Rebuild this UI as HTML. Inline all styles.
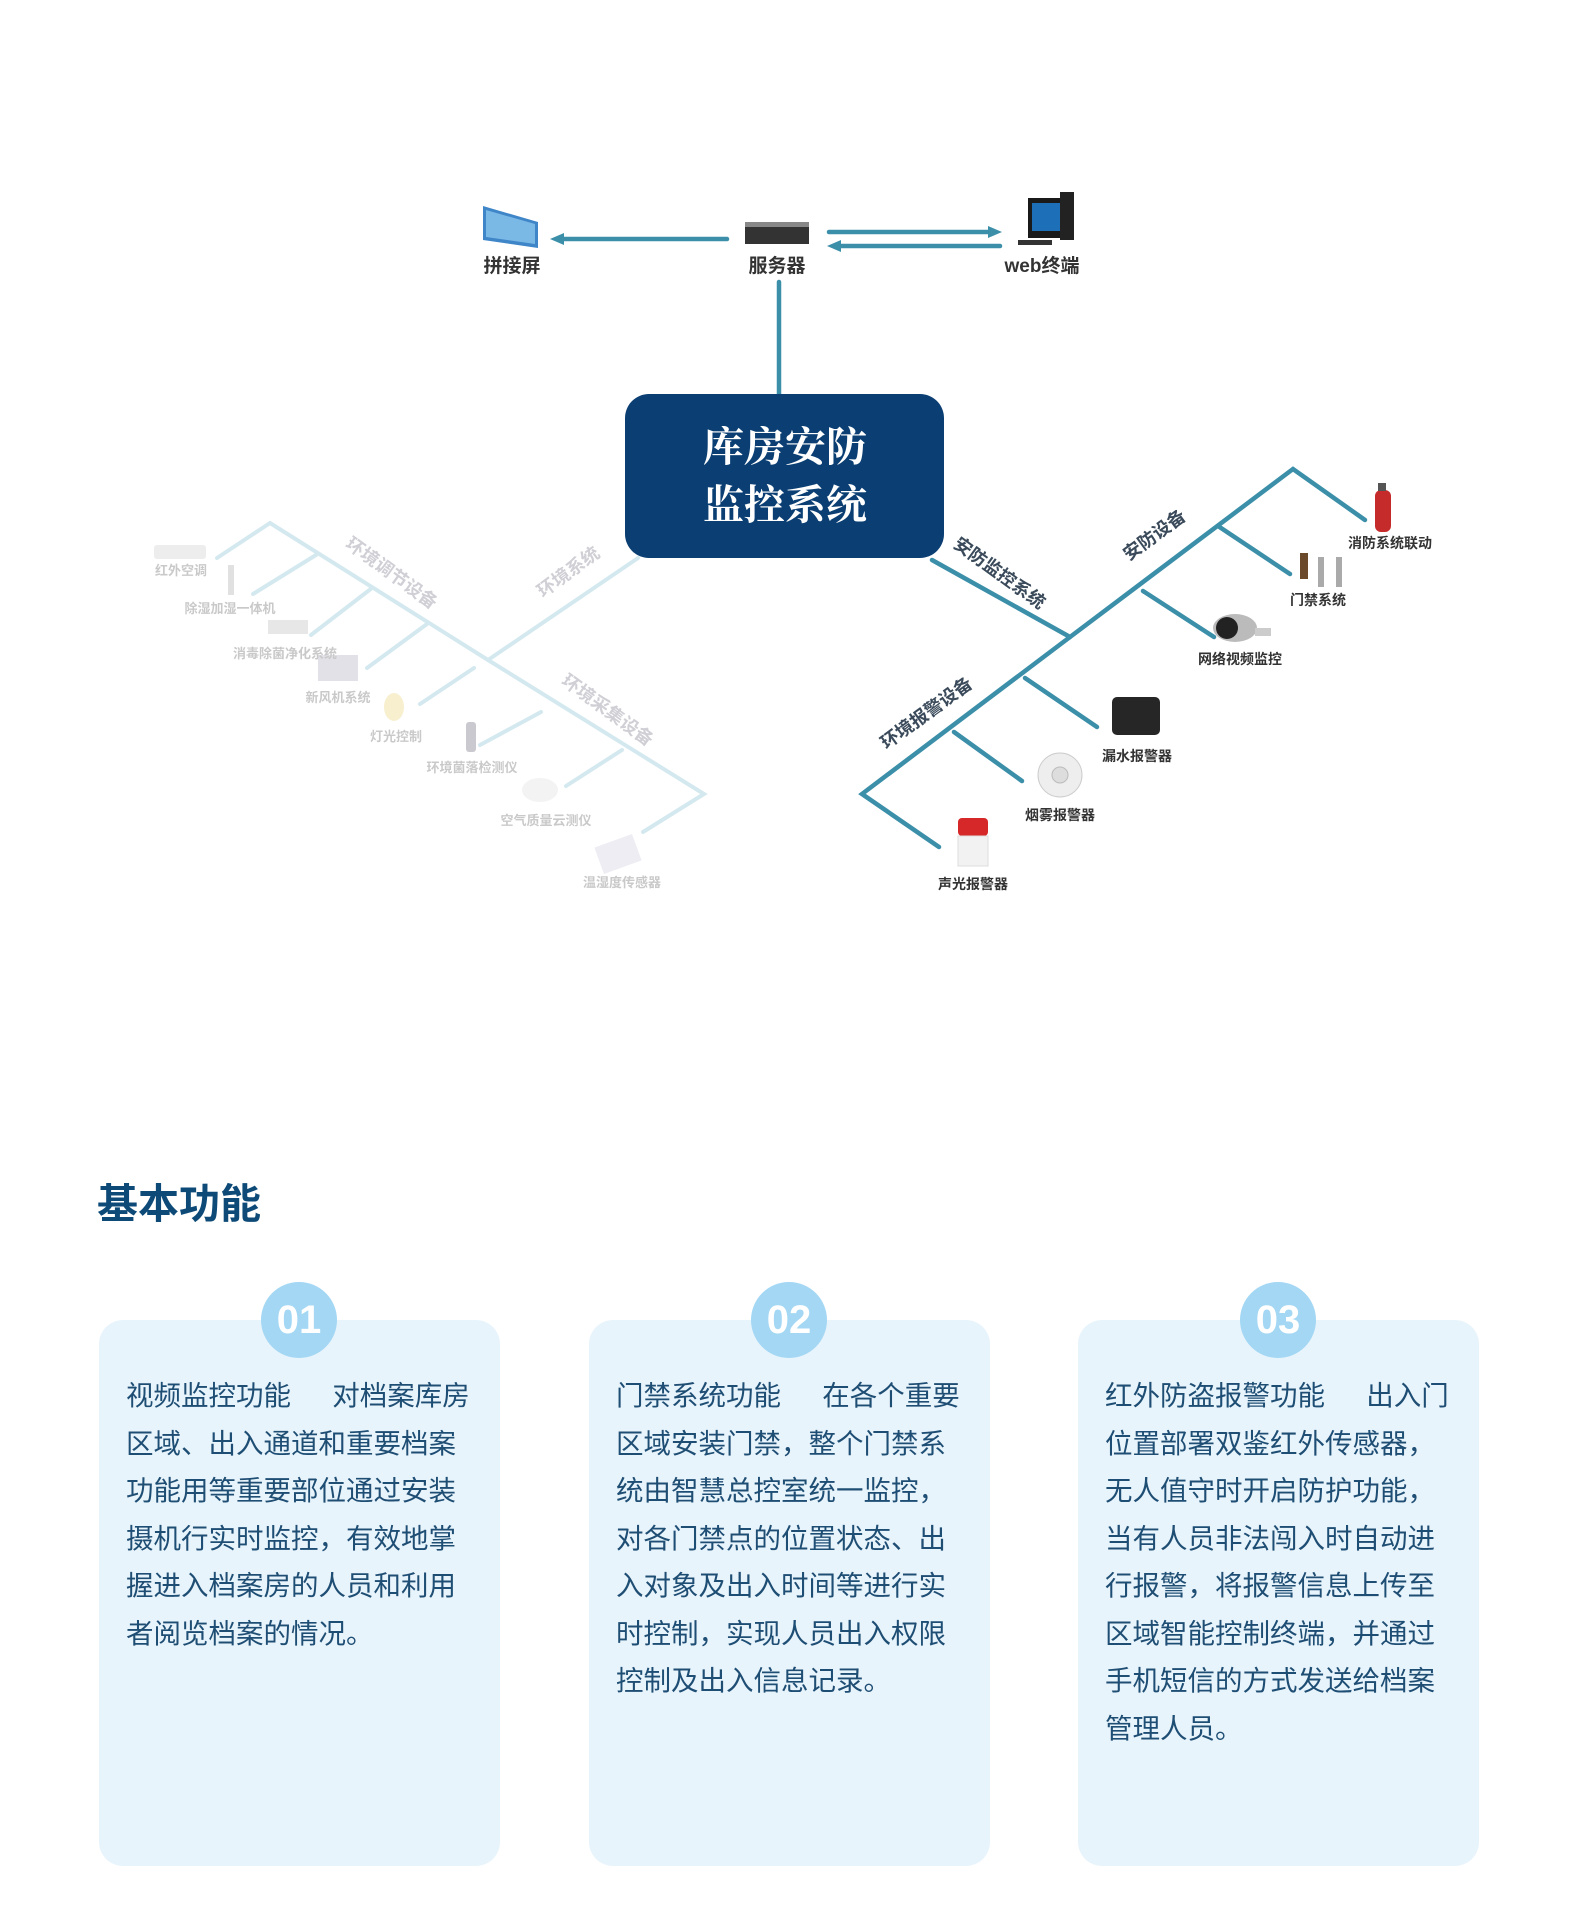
<!DOCTYPE html>
<html><head><meta charset="utf-8">
<style>
html,body{margin:0;padding:0;background:#fff;}
body{width:1588px;height:1922px;position:relative;overflow:hidden;font-family:"Liberation Sans","Noto Sans CJK SC",sans-serif;}
.title{position:absolute;left:97px;top:1170px;font-size:41px;font-weight:bold;color:#0d4a78;}
.card{position:absolute;top:1320px;width:401px;height:546px;background:#e8f4fc;border-radius:24px;}
.num{position:absolute;top:-38px;left:162px;width:76px;height:76px;border-radius:50%;background:#a3d7f4;color:#fff;font-weight:bold;font-size:40px;text-align:center;line-height:76px;}
.txt{position:absolute;left:27px;top:52px;width:370px;font-size:27.5px;line-height:47.5px;color:#1f4e74;white-space:nowrap;}
.g{display:inline-block;width:1.5em;}
</style></head><body>
<svg width="1588" height="960" style="position:absolute;left:0;top:0" xmlns="http://www.w3.org/2000/svg">
<g stroke="#3b8fa9" stroke-width="4.5" fill="none" stroke-linecap="round">
 <line x1="727" y1="239" x2="562" y2="239"/>
 <line x1="829" y1="232" x2="990" y2="232"/>
 <line x1="1000" y1="246" x2="839" y2="246"/>
 <line x1="779" y1="282" x2="779" y2="395"/>
 <polyline points="932,560 1070,637 1293,469 1365,520"/>
 <line x1="1218" y1="526" x2="1290" y2="574"/>
 <line x1="1143" y1="591" x2="1214" y2="637"/>
 <polyline points="1070,637 862,794 939,847"/>
 <line x1="1025" y1="678" x2="1097" y2="727"/>
 <line x1="954" y1="732" x2="1022" y2="781"/>
</g>
<g fill="#3b8fa9">
 <polygon points="550,239 564,233 564,245"/>
 <polygon points="1002,232 988,226 988,238"/>
 <polygon points="827,246 841,240 841,252"/>
</g>
<g stroke="#d4e9ef" stroke-width="4" fill="none" stroke-linecap="round">
 <line x1="638" y1="558" x2="488" y2="660"/>
 <polyline points="270,523 488,660 704,794 643,832"/>
 <line x1="270" y1="523" x2="217" y2="558"/>
 <line x1="316" y1="555" x2="253" y2="594"/>
 <line x1="372" y1="588" x2="311" y2="635"/>
 <line x1="427" y1="624" x2="367" y2="668"/>
 <line x1="474" y1="668" x2="420" y2="704"/>
 <line x1="541" y1="712" x2="480" y2="745"/>
 <line x1="622" y1="750" x2="566" y2="786"/>
</g>
<rect x="625" y="394" width="319" height="164" rx="24" fill="#0b3f73"/>
<text x="785" y="461" text-anchor="middle" font-family="Noto Serif CJK SC,serif" font-size="41" font-weight="bold" fill="#fff">库房安防</text>
<text x="785" y="519" text-anchor="middle" font-family="Noto Serif CJK SC,serif" font-size="41" font-weight="bold" fill="#fff">监控系统</text>
<polygon points="483,206 538,222 538,248 483,240" fill="#3f86c8"/>
<polygon points="486,210 535,224 535,244 486,237" fill="#7ab8e6"/>
<rect x="745" y="222" width="64" height="22" fill="#333"/><rect x="745" y="222" width="64" height="5" fill="#888"/>
<rect x="1028" y="198" width="42" height="40" fill="#1a1a1a"/><rect x="1032" y="203" width="34" height="28" fill="#1d6fb8"/>
<rect x="1060" y="192" width="14" height="48" fill="#222"/><rect x="1018" y="240" width="34" height="5" fill="#333"/>
<g font-family="Liberation Sans,Noto Sans CJK SC,sans-serif" font-size="19" font-weight="bold" fill="#333" text-anchor="middle">
<text x="512" y="272">拼接屏</text><text x="777" y="272">服务器</text><text x="1042" y="272">web终端</text>
</g>
<rect x="1375" y="490" width="16" height="42" rx="6" fill="#c62b2b"/><rect x="1378" y="483" width="8" height="8" fill="#555"/>
<rect x="1300" y="553" width="8" height="26" fill="#6a4a2a"/><rect x="1318" y="557" width="6" height="30" fill="#aaa"/><rect x="1336" y="557" width="6" height="30" fill="#aaa"/>
<ellipse cx="1235" cy="628" rx="22" ry="14" fill="#bbb"/><circle cx="1227" cy="628" r="11" fill="#222"/><rect x="1255" y="628" width="16" height="8" fill="#ccc"/>
<rect x="1112" y="697" width="48" height="38" rx="5" fill="#262626"/>
<circle cx="1060" cy="775" r="22" fill="#eee" stroke="#ccc"/><circle cx="1060" cy="775" r="8" fill="#ddd" stroke="#bbb"/>
<rect x="958" y="818" width="30" height="18" rx="4" fill="#d62828"/><rect x="958" y="836" width="30" height="30" fill="#f2f2f2" stroke="#ddd"/>
<g font-family="Liberation Sans,Noto Sans CJK SC,sans-serif" font-size="14" font-weight="bold" fill="#333" text-anchor="middle">
<text x="1390" y="548">消防系统联动</text><text x="1318" y="605">门禁系统</text><text x="1240" y="664">网络视频监控</text>
<text x="1137" y="761">漏水报警器</text><text x="1060" y="820">烟雾报警器</text><text x="973" y="889">声光报警器</text>
</g>
<g font-family="Liberation Sans,Noto Sans CJK SC,sans-serif" font-size="18" font-weight="bold" fill="#3a4a5a" text-anchor="middle">
<text transform="translate(996,578) rotate(36)">安防监控系统</text>
<text transform="translate(1158,540) rotate(-36)">安防设备</text>
<text transform="translate(930,718) rotate(-36)">环境报警设备</text>
</g>
<g opacity="0.35">
<rect x="154" y="545" width="52" height="14" rx="3" fill="#ccc"/>
<rect x="228" y="565" width="6" height="30" fill="#aaa"/>
<rect x="268" y="620" width="40" height="14" fill="#bbb"/>
<rect x="318" y="655" width="40" height="26" fill="#aab"/>
<ellipse cx="394" cy="707" rx="10" ry="14" fill="#e8d070"/>
<rect x="466" y="722" width="10" height="30" rx="3" fill="#667"/>
<ellipse cx="540" cy="790" rx="18" ry="12" fill="#ddd"/>
<rect x="598" y="840" width="40" height="28" fill="#ccd" transform="rotate(-20 618 854)"/>
<g font-family="Liberation Sans,Noto Sans CJK SC,sans-serif" font-size="13" font-weight="bold" fill="#666" text-anchor="middle">
<text x="181" y="575">红外空调</text><text x="230" y="613">除湿加湿一体机</text><text x="285" y="658">消毒除菌净化系统</text>
<text x="338" y="702">新风机系统</text><text x="396" y="741">灯光控制</text><text x="472" y="772">环境菌落检测仪</text>
<text x="546" y="825">空气质量云测仪</text><text x="622" y="887">温湿度传感器</text>
</g>
<g font-family="Liberation Sans,Noto Sans CJK SC,sans-serif" font-size="18" font-weight="bold" fill="#778" text-anchor="middle">
<text transform="translate(388,578) rotate(36)">环境调节设备</text>
<text transform="translate(604,715) rotate(36)">环境采集设备</text>
<text transform="translate(572,577) rotate(-36)">环境系统</text>
</g>
</g>
</svg>
<div class="title">基本功能</div>
<div class="card" style="left:99px"><div class="num">01</div><div class="txt">视频监控功能<span class="g"></span>对档案库房<br>区域、出入通道和重要档案<br>功能用等重要部位通过安装<br>摄机行实时监控，有效地掌<br>握进入档案房的人员和利用<br>者阅览档案的情况。</div></div>
<div class="card" style="left:589px"><div class="num">02</div><div class="txt">门禁系统功能<span class="g"></span>在各个重要<br>区域安装门禁，整个门禁系<br>统由智慧总控室统一监控，<br>对各门禁点的位置状态、出<br>入对象及出入时间等进行实<br>时控制，实现人员出入权限<br>控制及出入信息记录。</div></div>
<div class="card" style="left:1078px"><div class="num">03</div><div class="txt">红外防盗报警功能<span class="g"></span>出入门<br>位置部署双鉴红外传感器，<br>无人值守时开启防护功能，<br>当有人员非法闯入时自动进<br>行报警，将报警信息上传至<br>区域智能控制终端，并通过<br>手机短信的方式发送给档案<br>管理人员。</div></div>
</body></html>
